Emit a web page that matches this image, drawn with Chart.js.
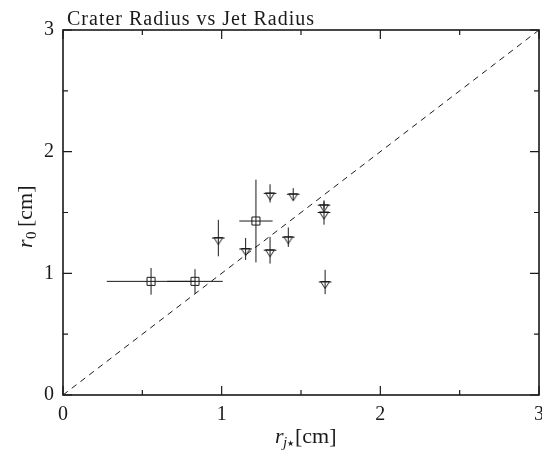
<!DOCTYPE html>
<html>
<head>
<meta charset="utf-8">
<script src="https://cdn.jsdelivr.net/npm/chart.js@4"></script>
<style>
  html, body { margin: 0; padding: 0; background: #fff; }
  #wrap { width: 542px; height: 452px; position: relative; }
</style>
</head>
<body>
<div id="wrap"><canvas id="craterChart"></canvas></div>
<script>
// jet radius (x), crater radius (y) and their error bars, cm
const squareX    = [0.555, 0.832, 1.216];
const squareY    = [0.934, 0.934, 1.430];
const squareXErr = [0.279, 0.175, 0.105];
const squareYErr = [0.11, 0.10, 0.34];

const triX    = [0.979, 1.151, 1.305, 1.305, 1.451, 1.420, 1.645, 1.645, 1.652];
const triY    = [1.290, 1.200, 1.190, 1.657, 1.650, 1.297, 1.560, 1.500, 0.929];
const triXErr = [0.04, 0.04, 0.04, 0.04, 0.04, 0.04, 0.04, 0.04, 0.04];
const triYErr = [0.15, 0.09, 0.11, 0.075, 0.05, 0.08, 0.03, 0.10, 0.10];

const diagX = [0, 3];
const diagY = [0, 3];

const majorTicks = [0, 1, 2, 3];
const minorTicks = [0.5, 1.5, 2.5];

const titleText = 'Crater Radius vs Jet Radius';
const serif = '"Liberation Serif", "DejaVu Serif", serif';
const ink = '#1a1a1a';

document.addEventListener('DOMContentLoaded', function() {
    // open down-triangle whose top edge sits on the data point
    function triangleMarker() {
        const c = document.createElement('canvas');
        c.width = 20; c.height = 20;
        const g = c.getContext('2d');
        g.strokeStyle = ink;
        g.lineWidth = 1;
        g.beginPath();
        g.moveTo(5.5, 9.5);
        g.lineTo(14.5, 9.5);
        g.lineTo(10, 16.5);
        g.closePath();
        g.stroke();
        return c;
    }

    function toPoints(xs, ys) {
        return xs.map((x, i) => ({ x: x, y: ys[i] }));
    }

    const errorBars = {
        id: 'errorBars',
        beforeDatasetsDraw(chart) {
            const ctx = chart.ctx;
            const xs = chart.scales.x, ys = chart.scales.y;
            ctx.save();
            ctx.strokeStyle = ink;
            ctx.lineWidth = 1;
            chart.data.datasets.forEach(ds => {
                if (!ds.xErr) return;
                ds.data.forEach((p, i) => {
                    const px = xs.getPixelForValue(p.x), py = ys.getPixelForValue(p.y);
                    ctx.beginPath();
                    ctx.moveTo(xs.getPixelForValue(p.x - ds.xErr[i]), py);
                    ctx.lineTo(xs.getPixelForValue(p.x + ds.xErr[i]), py);
                    ctx.moveTo(px, ys.getPixelForValue(p.y - ds.yErr[i]));
                    ctx.lineTo(px, ys.getPixelForValue(p.y + ds.yErr[i]));
                    ctx.stroke();
                });
            });
            ctx.restore();
        }
    };

    const frame = {
        id: 'frame',
        afterDraw(chart) {
            const ctx = chart.ctx;
            const a = chart.chartArea;
            const xs = chart.scales.x, ys = chart.scales.y;
            ctx.save();
            ctx.strokeStyle = ink;
            ctx.lineWidth = 1.2;
            // inward ticks on all four sides
            const drawTicks = (vals, len) => {
                ctx.beginPath();
                vals.forEach(v => {
                    const px = xs.getPixelForValue(v);
                    ctx.moveTo(px, a.bottom); ctx.lineTo(px, a.bottom - len);
                    ctx.moveTo(px, a.top); ctx.lineTo(px, a.top + len);
                    const py = ys.getPixelForValue(v);
                    ctx.moveTo(a.left, py); ctx.lineTo(a.left + len, py);
                    ctx.moveTo(a.right, py); ctx.lineTo(a.right - len, py);
                });
                ctx.stroke();
            };
            drawTicks(majorTicks, 9);
            drawTicks(minorTicks, 5);
            ctx.lineWidth = 1.6;
            ctx.strokeRect(a.left, a.top, a.right - a.left, a.bottom - a.top);

            // title
            ctx.fillStyle = ink;
            ctx.font = '20px ' + serif;
            ctx.letterSpacing = '1px';
            ctx.textAlign = 'left';
            ctx.textBaseline = 'alphabetic';
            ctx.fillText(titleText, 67, 25);
            ctx.letterSpacing = '0px';

            // x axis label: r_{j*} [cm]
            const xl = 275;
            ctx.font = 'italic 22px ' + serif;
            ctx.fillText('r', xl, 443);
            ctx.font = 'italic 15px ' + serif;
            ctx.fillText('j', xl + 8, 447);
            ctx.font = '8px "DejaVu Sans", sans-serif';
            ctx.fillText('\u2605', xl + 12, 446);
            ctx.font = '22px ' + serif;
            ctx.fillText('[cm]', xl + 20, 443);

            // y axis label: r_0 [cm]
            ctx.save();
            ctx.translate(32, 215);
            ctx.rotate(-Math.PI / 2);
            ctx.textAlign = 'left';
            ctx.font = 'italic 22px ' + serif;
            ctx.fillText('r', -33, 0);
            ctx.font = '15px ' + serif;
            ctx.fillText('0', -24, 4);
            ctx.font = '22px ' + serif;
            ctx.fillText('[cm]', -12, 0);
            ctx.restore();
            ctx.restore();
        }
    };

    const tickFont = { family: serif, size: 20 };

    const config = {
        type: 'scatter',
        data: {
            datasets: [
                {
                    label: 'diagonal',
                    type: 'line',
                    data: toPoints(diagX, diagY),
                    borderColor: ink,
                    borderWidth: 1,
                    borderDash: [6, 5],
                    pointRadius: 0,
                    fill: false
                },
                {
                    label: 'squares',
                    data: toPoints(squareX, squareY),
                    xErr: squareXErr,
                    yErr: squareYErr,
                    pointStyle: 'rect',
                    pointRadius: 5.7,
                    borderColor: ink,
                    borderWidth: 1,
                    backgroundColor: 'rgba(0,0,0,0)'
                },
                {
                    label: 'triangles',
                    data: toPoints(triX, triY),
                    xErr: triXErr,
                    yErr: triYErr,
                    pointStyle: triangleMarker(),
                    pointRadius: 10,
                    borderWidth: 0
                }
            ]
        },
        options: {
            responsive: false,
            animation: false,
            devicePixelRatio: 1,
            layout: { autoPadding: false, padding: { top: 30, right: 3, left: 0, bottom: 0 } },
            plugins: {
                legend: { display: false },
                tooltip: { enabled: false }
            },
            scales: {
                x: {
                    type: 'linear',
                    min: 0, max: 3,
                    grid: { display: false, drawTicks: false },
                    border: { display: false },
                    ticks: { stepSize: 1, padding: 8, color: ink, font: tickFont, maxRotation: 0 },
                    afterFit: s => { s.height = 57; s.paddingLeft = 0; s.paddingRight = 0; }
                },
                y: {
                    type: 'linear',
                    min: 0, max: 3,
                    grid: { display: false, drawTicks: false },
                    border: { display: false },
                    ticks: { stepSize: 1, padding: 9, color: ink, font: tickFont },
                    afterFit: s => { s.width = 63; s.paddingTop = 0; s.paddingBottom = 0; }
                }
            }
        },
        plugins: [errorBars, frame]
    };

    const canvas = document.getElementById('craterChart');
    canvas.width = 542;
    canvas.height = 452;
    new Chart(canvas.getContext('2d'), config);
});
</script>
</body>
</html>
